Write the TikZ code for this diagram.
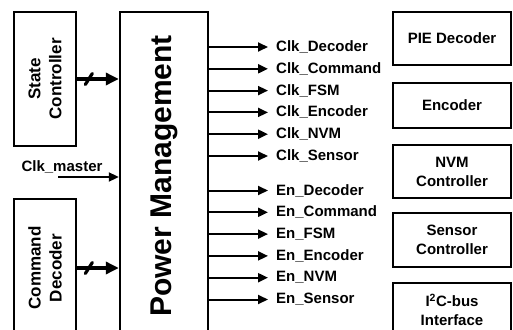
\documentclass[tikz,border=0pt]{standalone}
\usepackage{fontspec}
\setmainfont{Liberation Sans}
\usepackage{tikz}
\usetikzlibrary{arrows.meta}

\tikzset{
  blk/.style={draw, line width=2.4pt, align=center, inner sep=0pt,
    font=\fontsize{15}{19}\selectfont\bfseries},
  sideblk/.style={blk, rotate=90, minimum height=62pt,
    font=\fontsize{17}{21}\selectfont\bfseries},
  sig/.style={anchor=west, inner xsep=8pt, inner ysep=1pt,
    font=\fontsize{15}{18}\selectfont\bfseries},
  sigarrow/.style={line width=2pt, -{Triangle[length=10pt,width=9pt]}},
  bus/.style={line width=3.8pt, -{Triangle[length=13pt,width=12pt]}},
  busslash/.style={line width=3.2pt, line cap=round},
}

\begin{document}
\begin{tikzpicture}[x=1pt,y=-1pt]
    \useasboundingbox (0,0) rectangle (513,329);
    \clip (0,0) rectangle (513,329);
    % left blocks
    \node[sideblk, minimum width=134pt] (state) at (45,79) {State\\Controller};
    \node[sideblk, minimum width=138pt] (cmddec) at (45,268) {Command\\Decoder};
    \node[blk, rotate=90, minimum width=328pt, minimum height=88pt,
      font=\fontsize{30}{36}\selectfont\bfseries] (pm) at (164,176) {Power Management};
    % right blocks
    \node[blk, minimum width=118pt, minimum height=53pt] (pie) at (452,38.5) {PIE Decoder};
    \node[blk, minimum width=118pt, minimum height=45pt] (enc) at (452,105.5) {Encoder};
    \node[blk, minimum width=118pt, minimum height=53pt] (nvm) at (452,171.5) {NVM\\Controller};
    \node[blk, minimum width=118pt, minimum height=54pt] (sens) at (452,240) {Sensor\\Controller};
    \node[blk, minimum width=118pt, minimum height=54pt] (iic) at (452,310) {I\textsuperscript{2}C-bus\\Interface};
    % inputs
    \draw[bus] (state.south) -- coordinate[pos=0.28] (stcut) (pm.north |- state.south);
    \draw[busslash] (stcut) ++(-3.5,5.5) -- ++(7,-11);
    \draw[bus] (cmddec.south) -- coordinate[pos=0.28] (cdcut) (pm.north |- cmddec.south);
    \draw[busslash] (cdcut) ++(-3.5,5.5) -- ++(7,-11);
    \node[sig, anchor=center] (clkm) at (62,167) {Clk\_master};
    \coordinate (clkin) at (58,177);
    \draw[sigarrow] (clkin) -- (pm.north |- clkin);
    % clock outputs
    \node[sig] (clkdec) at (268,47) {Clk\_Decoder};
    \node[sig] (clkcmd) at (268,68.8) {Clk\_Command};
    \node[sig] (clkfsm) at (268,90.6) {Clk\_FSM};
    \node[sig] (clkenc) at (268,112.4) {Clk\_Encoder};
    \node[sig] (clknvm) at (268,134.2) {Clk\_NVM};
    \node[sig] (clksens) at (268,156) {Clk\_Sensor};
    \draw[sigarrow] (pm.south |- clkdec.west) -- (clkdec.west);
    \draw[sigarrow] (pm.south |- clkcmd.west) -- (clkcmd.west);
    \draw[sigarrow] (pm.south |- clkfsm.west) -- (clkfsm.west);
    \draw[sigarrow] (pm.south |- clkenc.west) -- (clkenc.west);
    \draw[sigarrow] (pm.south |- clknvm.west) -- (clknvm.west);
    \draw[sigarrow] (pm.south |- clksens.west) -- (clksens.west);
    % enable outputs
    \node[sig] (endec) at (268,190.5) {En\_Decoder};
    \node[sig] (encmd) at (268,212.3) {En\_Command};
    \node[sig] (enfsm) at (268,234.1) {En\_FSM};
    \node[sig] (enenc) at (268,255.9) {En\_Encoder};
    \node[sig] (ennvm) at (268,277.7) {En\_NVM};
    \node[sig] (ensens) at (268,299.5) {En\_Sensor};
    \draw[sigarrow] (pm.south |- endec.west) -- (endec.west);
    \draw[sigarrow] (pm.south |- encmd.west) -- (encmd.west);
    \draw[sigarrow] (pm.south |- enfsm.west) -- (enfsm.west);
    \draw[sigarrow] (pm.south |- enenc.west) -- (enenc.west);
    \draw[sigarrow] (pm.south |- ennvm.west) -- (ennvm.west);
    \draw[sigarrow] (pm.south |- ensens.west) -- (ensens.west);
\end{tikzpicture}
\end{document}
